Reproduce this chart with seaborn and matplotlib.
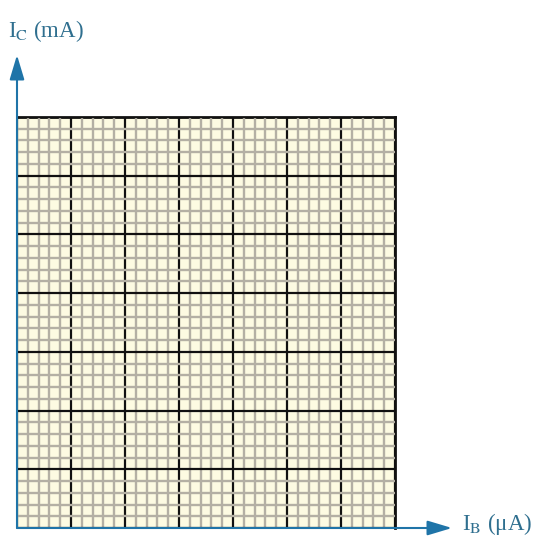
import numpy as np
import matplotlib
matplotlib.use("Agg")
import matplotlib.pyplot as plt
import seaborn as sns

# grid paper: 7 x 7 major squares, each split into 5 minor divisions
x_major = [0, 1, 2, 3, 4, 5, 6, 7]
y_major = [0, 1, 2, 3, 4, 5, 6, 7]
minor_per_major = 5
x_label = r"I$_{\rm B}$ (μA)"
y_label = r"I$_{\rm C}$ (mA)"

sns.set_style("white")
plt.rcParams["font.family"] = ["Liberation Serif", "DejaVu Serif"]
plt.rcParams["mathtext.fontset"] = "stix"

paper = "#fdfbe2"
minor_col = "#b4b0a4"
axis_col = "#1f74a8"
text_col = "#2f6f8f"

fig = plt.figure(figsize=(5.6, 5.6), dpi=100)
ax = fig.add_axes([17 / 560, 32 / 560, 378 / 560, 411 / 560])
ax.set_facecolor(paper)
ax.set_xlim(x_major[0], x_major[-1])
ax.set_ylim(y_major[0], y_major[-1])

step = 1 / minor_per_major
ax.set_xticks(x_major)
ax.set_yticks(y_major)
ax.set_xticks(np.arange(x_major[0], x_major[-1] + step / 2, step), minor=True)
ax.set_yticks(np.arange(y_major[0], y_major[-1] + step / 2, step), minor=True)
ax.grid(which="minor", color=minor_col, lw=1.7)
ax.grid(which="major", color="#111111", lw=1.6)
ax.set_axisbelow(False)
ax.tick_params(which="both", length=0, labelbottom=False, labelleft=False)
for s in ["left", "bottom"]:
    ax.spines[s].set_visible(False)
for s in ["top", "right"]:
    ax.spines[s].set_color("#111111")
    ax.spines[s].set_linewidth(2)

# axis arrows (figure pixels, origin bottom-left)
arrow = dict(arrowstyle="-|>,head_length=1.5,head_width=0.45", color=axis_col, lw=1.5,
             shrinkA=0, shrinkB=0)
ax.annotate("", xy=(17, 505), xytext=(17, 32), xycoords="figure pixels",
            textcoords="figure pixels", arrowprops=arrow, annotation_clip=False)
ax.annotate("", xy=(452, 32), xytext=(17, 32), xycoords="figure pixels",
            textcoords="figure pixels", arrowprops=arrow, annotation_clip=False)

fig.text(8 / 560, 1 - 31 / 560, y_label, fontsize=16.5, color=text_col, va="center", ha="left")
fig.text(462 / 560, 1 - 524 / 560, x_label, fontsize=16.5, color=text_col, va="center", ha="left")

fig.savefig("out.png", dpi=100, facecolor="white")
